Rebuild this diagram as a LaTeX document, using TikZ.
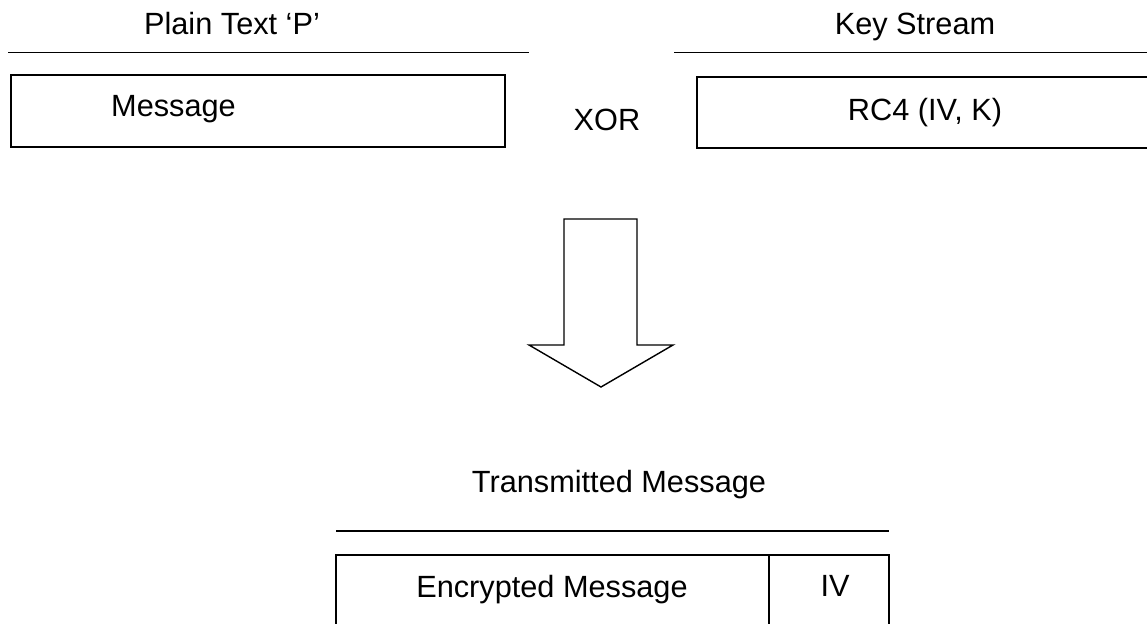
\documentclass[tikz,border=0pt]{standalone}
\usepackage{fontspec}
\setmainfont{Liberation Sans}
\begin{document}
\begin{tikzpicture}[x=1pt,y=-1pt,
  ln/.style={line width=1.4pt},
  lbl/.style={anchor=base,inner sep=0pt,font=\fontsize{30.7}{36}\selectfont}]
\clip (0,0) rectangle (1147,623);
\fill[white] (0,0) rectangle (1147,623);
% headings and rules
\node[lbl] (pt) at (232,35) {Plain Text ‘P’};
\node[lbl] (ks) at (915,35) {Key Stream};
\coordinate (l1a) at (8,52.7);
\coordinate (l1b) at (529,52.7);
\coordinate (l2a) at (674,52.7);
\coordinate (l2b) at (1160,52.7);
\draw[ln] (l1a) -- (l1b);
\draw[ln] (l2a) -- (l2b);
% top boxes
\draw[ln] (11,75) rectangle (505,147);
\node[lbl] (msg) at (173.5,117) {Message};
\node[lbl] (xor) at (607,131) {XOR};
\draw[ln] (697,77) rectangle (1170,148);
\node[lbl] (rc4) at (925,121) {RC4 (IV, K)};
% block arrow
\draw[ln,line join=miter] (564,219) -- (637,219) -- (637,345) -- (673,345) -- (601,387) -- (529,345) -- (564,345) -- cycle;
% bottom
\node[lbl] (tm) at (619,492) {Transmitted Message};
\coordinate (l3a) at (336,531);
\coordinate (l3b) at (889,531);
\draw[ln] (l3a) -- (l3b);
\draw[ln] (336,555) rectangle (889,640);
\draw[ln] (769,555) -- (769,640);
\node[lbl] (em) at (552,597) {Encrypted Message};
\node[lbl] (iv) at (835,596) {IV};
\end{tikzpicture}
\end{document}
